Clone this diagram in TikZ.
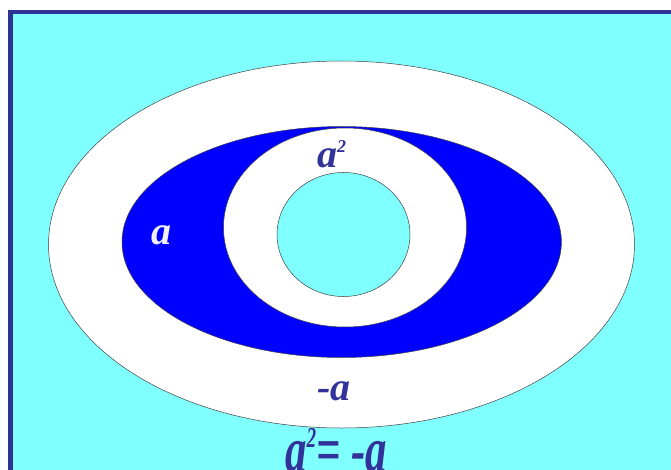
\documentclass[tikz,border=0pt]{standalone}
\usepackage{fontspec}
\setmainfont{Liberation Serif}
\definecolor{bgcyan}{RGB}{128,255,255}
\definecolor{frameblue}{RGB}{46,52,148}
\definecolor{txtblue}{RGB}{50,50,155}
\definecolor{fillblue}{RGB}{0,0,255}
\definecolor{txtwhite}{RGB}{240,240,255}
\newcommand{\supertwo}{{\fontsize{18}{18}\selectfont\raisebox{15pt}{2}}}
\tikzset{
  region/.style={draw=black!75, line width=0.5pt},
  lbl/.style={inner sep=0pt, anchor=base west, text=txtblue,
    font=\fontsize{40}{40}\selectfont\bfseries\itshape},
}
\begin{document}
\begin{tikzpicture}[x=1pt,y=-1pt]
\useasboundingbox (0,0) rectangle (671,470);
\fill[white] (0,0) rectangle (671,470);
\fill[bgcyan] (10,12) rectangle (671,470);
\draw[frameblue, line width=4.5pt] (10.5,470) -- (10.5,12) -- (671,12);
% regions
\draw[region, fill=white] (341.5,244.5) ellipse [x radius=293, y radius=183.5];
\draw[region, fill=fillblue] (341.7,242) ellipse [x radius=219.7, y radius=115.5];
\draw[region, fill=white] (345,227.5) ellipse [x radius=121.5, y radius=99.5];
\draw[region, fill=bgcyan] (343.5,234.5) ellipse [x radius=66.5, y radius=62];
% labels
\node[lbl, text=txtwhite] (la) at (151,244) {a};
\node[lbl] (lasq) at (317,168) {a\supertwo};
\node[lbl] (lneg) at (317,400) {-a};
\node[lbl, xscale=1.07, yscale=1.6] (leq) at (285,471) {a\supertwo= -a};
\end{tikzpicture}
\end{document}
